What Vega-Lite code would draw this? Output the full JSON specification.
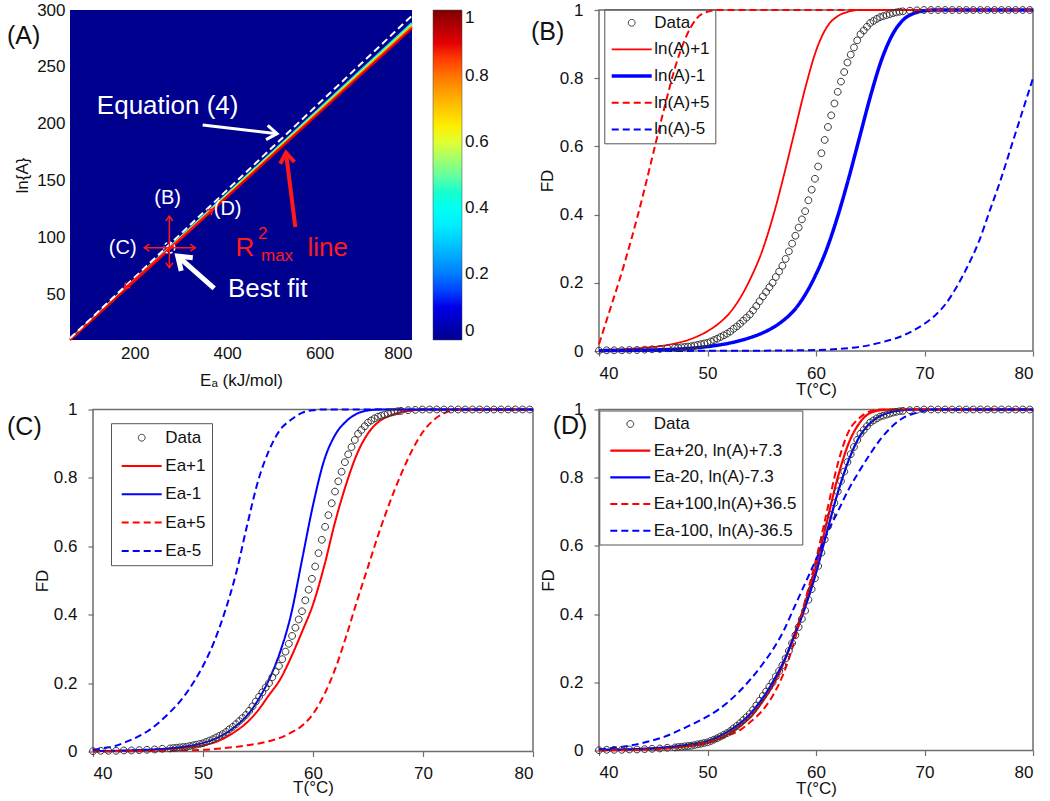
{
  "$schema": "https://vega.github.io/schema/vega-lite/v6.json",
  "background": "white",
  "padding": {"left": 6, "top": 0, "right": 5, "bottom": 0},
  "config": {
    "font": "Liberation Sans",
    "view": {"stroke": "#6e6e6e", "strokeWidth": 1.5},
    "axis": {"labelFont": "Liberation Sans", "labelFontSize": 17, "labelColor": "#111", "titleFont": "Liberation Sans", "titleFontSize": 17, "titleFontWeight": "normal", "titleColor": "#111", "grid": false, "domain": false, "tickColor": "#6e6e6e", "tickSize": 5, "tickWidth": 1.2},
    "legend": {"labelFont": "Liberation Sans", "labelFontSize": 17, "labelColor": "#111"},
    "title": {"font": "Liberation Sans", "fontSize": 25, "fontWeight": "normal", "color": "#111", "anchor": "start", "frame": "group", "offset": 0, "baseline": "middle"}
  },
  "datasets": {
    "heat": [{"E": 60, "E2": 800, "L": 10, "L2": 300, "v": 0}],
    "ridge": [
      {"band": "a", "E": 60, "L": 10.6}, {"band": "a", "E": 800, "L": 288.5},
      {"band": "b", "E": 60, "L": 10.4}, {"band": "b", "E": 800, "L": 287},
      {"band": "c", "E": 60, "L": 10.2}, {"band": "c", "E": 800, "L": 285.5},
      {"band": "d", "E": 60, "L": 10}, {"band": "d", "E": 800, "L": 284}
    ],
    "eq": [{"E": 60, "L": 11.5}, {"E": 800, "L": 295}],
    "fit": [{"E": 274.9, "L": 91.1}],
    "arrowsA": [
      {"grp": "thin", "E": 274.9, "L": 73.5, "E2": 274.9, "L2": 119},
      {"grp": "thin", "E": 220.8, "L": 91.1, "E2": 331.1, "L2": 91.1},
      {"grp": "thin", "E": 177.5, "L": 55.4, "E2": 368.8, "L2": 124.9},
      {"grp": "weq", "E": 347, "L": 199, "E2": 508, "L2": 191.3},
      {"grp": "wbf", "E": 372, "L": 55.4, "E2": 293, "L2": 83.8},
      {"grp": "red", "E": 547.5, "L": 109.3, "E2": 527.4, "L2": 174.6}
    ],
    "headsA": [
      {"grp": "thin", "E": 274.9, "L": 119, "dir": 0},
      {"grp": "thin", "E": 274.9, "L": 73.5, "dir": 180},
      {"grp": "thin", "E": 220.8, "L": 91.1, "dir": 270},
      {"grp": "thin", "E": 331.1, "L": 91.1, "dir": 90},
      {"grp": "thin", "E": 368.8, "L": 124.9, "dir": 48.2},
      {"grp": "thin", "E": 177.5, "L": 55.4, "dir": 228.2},
      {"grp": "weq", "E": 508, "L": 191.3, "dir": 96.7},
      {"grp": "wbf", "E": 293, "L": 83.8, "dir": 311.5},
      {"grp": "red", "E": 527.4, "L": 174.6, "dir": 352.9}
    ],
    "notesA": [
      {"grp": "small", "txt": "(B)", "E": 271.3, "L": 135.1},
      {"grp": "small", "txt": "(C)", "E": 174, "L": 91.1},
      {"grp": "small", "txt": "(D)", "E": 401, "L": 124.9},
      {"grp": "big", "txt": "Equation (4)", "E": 271.3, "L": 215.6},
      {"grp": "big", "txt": "Best fit", "E": 487.7, "L": 54.5},
      {"grp": "redbig", "txt": "R", "E": 438.6, "L": 91.1},
      {"grp": "redbig", "txt": "line", "E": 617.6, "L": 91.1},
      {"grp": "redsmall", "txt": "2", "E": 477, "L": 103.2},
      {"grp": "redsmall", "txt": "max", "E": 508, "L": 83.8}
    ],
    "obs": [
      {"T": 40.0, "FD": 0.001}, {"T": 40.7, "FD": 0.002}, {"T": 41.4, "FD": 0.002}, {"T": 42.1, "FD": 0.002}, {"T": 42.8, "FD": 0.003},
      {"T": 43.5, "FD": 0.003}, {"T": 44.2, "FD": 0.004}, {"T": 44.9, "FD": 0.005}, {"T": 45.6, "FD": 0.006}, {"T": 46.3, "FD": 0.008},
      {"T": 47.0, "FD": 0.009}, {"T": 47.3, "FD": 0.010}, {"T": 47.6, "FD": 0.011}, {"T": 47.9, "FD": 0.012}, {"T": 48.2, "FD": 0.013},
      {"T": 48.5, "FD": 0.014}, {"T": 48.8, "FD": 0.016}, {"T": 49.1, "FD": 0.018}, {"T": 49.4, "FD": 0.020}, {"T": 49.7, "FD": 0.022},
      {"T": 50.0, "FD": 0.024}, {"T": 50.3, "FD": 0.028}, {"T": 50.6, "FD": 0.032}, {"T": 50.9, "FD": 0.036}, {"T": 51.2, "FD": 0.041},
      {"T": 51.5, "FD": 0.046}, {"T": 51.8, "FD": 0.051}, {"T": 52.1, "FD": 0.057}, {"T": 52.4, "FD": 0.065}, {"T": 52.7, "FD": 0.072},
      {"T": 53.0, "FD": 0.080}, {"T": 53.3, "FD": 0.089}, {"T": 53.6, "FD": 0.098}, {"T": 53.9, "FD": 0.107}, {"T": 54.2, "FD": 0.119},
      {"T": 54.5, "FD": 0.132}, {"T": 54.8, "FD": 0.146}, {"T": 55.1, "FD": 0.160}, {"T": 55.4, "FD": 0.173}, {"T": 55.7, "FD": 0.187},
      {"T": 56.0, "FD": 0.200}, {"T": 56.3, "FD": 0.217}, {"T": 56.6, "FD": 0.233}, {"T": 56.9, "FD": 0.250}, {"T": 57.2, "FD": 0.270},
      {"T": 57.5, "FD": 0.292}, {"T": 57.8, "FD": 0.315}, {"T": 58.1, "FD": 0.338}, {"T": 58.4, "FD": 0.362}, {"T": 58.7, "FD": 0.386},
      {"T": 59.0, "FD": 0.410}, {"T": 59.3, "FD": 0.442}, {"T": 59.6, "FD": 0.473}, {"T": 59.9, "FD": 0.505}, {"T": 60.2, "FD": 0.541},
      {"T": 60.5, "FD": 0.580}, {"T": 60.8, "FD": 0.619}, {"T": 61.1, "FD": 0.657}, {"T": 61.4, "FD": 0.691}, {"T": 61.7, "FD": 0.726},
      {"T": 62.0, "FD": 0.760}, {"T": 62.3, "FD": 0.790}, {"T": 62.6, "FD": 0.818}, {"T": 62.9, "FD": 0.846}, {"T": 63.2, "FD": 0.869},
      {"T": 63.5, "FD": 0.890}, {"T": 63.8, "FD": 0.911}, {"T": 64.1, "FD": 0.929}, {"T": 64.4, "FD": 0.940}, {"T": 64.7, "FD": 0.951},
      {"T": 65.0, "FD": 0.962}, {"T": 65.3, "FD": 0.968}, {"T": 65.6, "FD": 0.974}, {"T": 65.9, "FD": 0.979}, {"T": 66.2, "FD": 0.982},
      {"T": 66.5, "FD": 0.985}, {"T": 66.8, "FD": 0.988}, {"T": 67.1, "FD": 0.991}, {"T": 67.4, "FD": 0.993}, {"T": 67.7, "FD": 0.995},
      {"T": 68.0, "FD": 0.996}, {"T": 68.65, "FD": 0.998}, {"T": 69.3, "FD": 0.999}, {"T": 69.95, "FD": 1}, {"T": 70.6, "FD": 1},
      {"T": 71.25, "FD": 1}, {"T": 71.9, "FD": 1}, {"T": 72.55, "FD": 1}, {"T": 73.2, "FD": 1}, {"T": 73.85, "FD": 1},
      {"T": 74.5, "FD": 1}, {"T": 75.15, "FD": 1}, {"T": 75.8, "FD": 1}, {"T": 76.45, "FD": 1}, {"T": 77.1, "FD": 1},
      {"T": 77.75, "FD": 1}, {"T": 78.4, "FD": 1}, {"T": 79.05, "FD": 1}, {"T": 79.7, "FD": 1}
    ],
    "curvesB": [
      {"series": "ln(A)+1", "T": 40, "FD": 0.003}, {"series": "ln(A)+1", "T": 42, "FD": 0.005}, {"series": "ln(A)+1", "T": 44, "FD": 0.009}, {"series": "ln(A)+1", "T": 46, "FD": 0.016}, {"series": "ln(A)+1", "T": 47, "FD": 0.022}, {"series": "ln(A)+1", "T": 48, "FD": 0.03}, {"series": "ln(A)+1", "T": 49, "FD": 0.042}, {"series": "ln(A)+1", "T": 50, "FD": 0.058}, {"series": "ln(A)+1", "T": 51, "FD": 0.08}, {"series": "ln(A)+1", "T": 52, "FD": 0.11}, {"series": "ln(A)+1", "T": 53, "FD": 0.155}, {"series": "ln(A)+1", "T": 54, "FD": 0.215}, {"series": "ln(A)+1", "T": 55, "FD": 0.29}, {"series": "ln(A)+1", "T": 56, "FD": 0.39}, {"series": "ln(A)+1", "T": 57, "FD": 0.51}, {"series": "ln(A)+1", "T": 58, "FD": 0.64}, {"series": "ln(A)+1", "T": 59, "FD": 0.77}, {"series": "ln(A)+1", "T": 60, "FD": 0.88}, {"series": "ln(A)+1", "T": 61, "FD": 0.95}, {"series": "ln(A)+1", "T": 62, "FD": 0.982}, {"series": "ln(A)+1", "T": 63, "FD": 0.995}, {"series": "ln(A)+1", "T": 64, "FD": 1}, {"series": "ln(A)+1", "T": 80, "FD": 1},
      {"series": "ln(A)-1", "T": 40, "FD": 0.001}, {"series": "ln(A)-1", "T": 45, "FD": 0.003}, {"series": "ln(A)-1", "T": 48, "FD": 0.007}, {"series": "ln(A)-1", "T": 50, "FD": 0.013}, {"series": "ln(A)-1", "T": 52, "FD": 0.023}, {"series": "ln(A)-1", "T": 54, "FD": 0.04}, {"series": "ln(A)-1", "T": 55, "FD": 0.052}, {"series": "ln(A)-1", "T": 56, "FD": 0.068}, {"series": "ln(A)-1", "T": 57, "FD": 0.09}, {"series": "ln(A)-1", "T": 58, "FD": 0.12}, {"series": "ln(A)-1", "T": 59, "FD": 0.165}, {"series": "ln(A)-1", "T": 60, "FD": 0.225}, {"series": "ln(A)-1", "T": 61, "FD": 0.3}, {"series": "ln(A)-1", "T": 62, "FD": 0.395}, {"series": "ln(A)-1", "T": 63, "FD": 0.505}, {"series": "ln(A)-1", "T": 64, "FD": 0.625}, {"series": "ln(A)-1", "T": 65, "FD": 0.745}, {"series": "ln(A)-1", "T": 66, "FD": 0.85}, {"series": "ln(A)-1", "T": 67, "FD": 0.925}, {"series": "ln(A)-1", "T": 68, "FD": 0.97}, {"series": "ln(A)-1", "T": 69, "FD": 0.99}, {"series": "ln(A)-1", "T": 70, "FD": 0.998}, {"series": "ln(A)-1", "T": 71, "FD": 1}, {"series": "ln(A)-1", "T": 80, "FD": 1},
      {"series": "ln(A)+5", "T": 40, "FD": 0.02}, {"series": "ln(A)+5", "T": 40.5, "FD": 0.07}, {"series": "ln(A)+5", "T": 41, "FD": 0.12}, {"series": "ln(A)+5", "T": 42, "FD": 0.22}, {"series": "ln(A)+5", "T": 43, "FD": 0.33}, {"series": "ln(A)+5", "T": 44, "FD": 0.45}, {"series": "ln(A)+5", "T": 45, "FD": 0.58}, {"series": "ln(A)+5", "T": 46, "FD": 0.71}, {"series": "ln(A)+5", "T": 47, "FD": 0.83}, {"series": "ln(A)+5", "T": 48, "FD": 0.92}, {"series": "ln(A)+5", "T": 49, "FD": 0.975}, {"series": "ln(A)+5", "T": 50, "FD": 0.995}, {"series": "ln(A)+5", "T": 51, "FD": 1}, {"series": "ln(A)+5", "T": 80, "FD": 1},
      {"series": "ln(A)-5", "T": 40, "FD": 0}, {"series": "ln(A)-5", "T": 55, "FD": 0.001}, {"series": "ln(A)-5", "T": 60, "FD": 0.003}, {"series": "ln(A)-5", "T": 62, "FD": 0.006}, {"series": "ln(A)-5", "T": 64, "FD": 0.012}, {"series": "ln(A)-5", "T": 66, "FD": 0.025}, {"series": "ln(A)-5", "T": 68, "FD": 0.045}, {"series": "ln(A)-5", "T": 70, "FD": 0.08}, {"series": "ln(A)-5", "T": 71, "FD": 0.105}, {"series": "ln(A)-5", "T": 72, "FD": 0.14}, {"series": "ln(A)-5", "T": 73, "FD": 0.19}, {"series": "ln(A)-5", "T": 74, "FD": 0.25}, {"series": "ln(A)-5", "T": 75, "FD": 0.32}, {"series": "ln(A)-5", "T": 76, "FD": 0.41}, {"series": "ln(A)-5", "T": 77, "FD": 0.5}, {"series": "ln(A)-5", "T": 78, "FD": 0.6}, {"series": "ln(A)-5", "T": 79, "FD": 0.7}, {"series": "ln(A)-5", "T": 80, "FD": 0.8}
    ],
    "curvesC": [
      {"series": "Ea+1", "T": 40, "FD": 0.001}, {"series": "Ea+1", "T": 44, "FD": 0.003}, {"series": "Ea+1", "T": 46, "FD": 0.006}, {"series": "Ea+1", "T": 48, "FD": 0.01}, {"series": "Ea+1", "T": 50, "FD": 0.018}, {"series": "Ea+1", "T": 51, "FD": 0.026}, {"series": "Ea+1", "T": 52, "FD": 0.04}, {"series": "Ea+1", "T": 53, "FD": 0.06}, {"series": "Ea+1", "T": 54, "FD": 0.085}, {"series": "Ea+1", "T": 55, "FD": 0.12}, {"series": "Ea+1", "T": 56, "FD": 0.165}, {"series": "Ea+1", "T": 57, "FD": 0.21}, {"series": "Ea+1", "T": 58, "FD": 0.275}, {"series": "Ea+1", "T": 59, "FD": 0.35}, {"series": "Ea+1", "T": 60, "FD": 0.43}, {"series": "Ea+1", "T": 61, "FD": 0.54}, {"series": "Ea+1", "T": 62, "FD": 0.67}, {"series": "Ea+1", "T": 63, "FD": 0.78}, {"series": "Ea+1", "T": 64, "FD": 0.87}, {"series": "Ea+1", "T": 65, "FD": 0.93}, {"series": "Ea+1", "T": 66, "FD": 0.965}, {"series": "Ea+1", "T": 67, "FD": 0.982}, {"series": "Ea+1", "T": 68, "FD": 0.992}, {"series": "Ea+1", "T": 69, "FD": 0.997}, {"series": "Ea+1", "T": 70, "FD": 1}, {"series": "Ea+1", "T": 80, "FD": 1},
      {"series": "Ea-1", "T": 40, "FD": 0.001}, {"series": "Ea-1", "T": 44, "FD": 0.004}, {"series": "Ea-1", "T": 46, "FD": 0.007}, {"series": "Ea-1", "T": 48, "FD": 0.013}, {"series": "Ea-1", "T": 50, "FD": 0.025}, {"series": "Ea-1", "T": 51, "FD": 0.036}, {"series": "Ea-1", "T": 52, "FD": 0.052}, {"series": "Ea-1", "T": 53, "FD": 0.075}, {"series": "Ea-1", "T": 54, "FD": 0.105}, {"series": "Ea-1", "T": 55, "FD": 0.15}, {"series": "Ea-1", "T": 56, "FD": 0.21}, {"series": "Ea-1", "T": 57, "FD": 0.29}, {"series": "Ea-1", "T": 58, "FD": 0.4}, {"series": "Ea-1", "T": 59, "FD": 0.56}, {"series": "Ea-1", "T": 60, "FD": 0.72}, {"series": "Ea-1", "T": 61, "FD": 0.85}, {"series": "Ea-1", "T": 62, "FD": 0.925}, {"series": "Ea-1", "T": 63, "FD": 0.965}, {"series": "Ea-1", "T": 64, "FD": 0.988}, {"series": "Ea-1", "T": 65, "FD": 0.997}, {"series": "Ea-1", "T": 66, "FD": 1}, {"series": "Ea-1", "T": 80, "FD": 1},
      {"series": "Ea+5", "T": 40, "FD": 0}, {"series": "Ea+5", "T": 46, "FD": 0.002}, {"series": "Ea+5", "T": 50, "FD": 0.005}, {"series": "Ea+5", "T": 52, "FD": 0.01}, {"series": "Ea+5", "T": 54, "FD": 0.018}, {"series": "Ea+5", "T": 56, "FD": 0.03}, {"series": "Ea+5", "T": 57, "FD": 0.04}, {"series": "Ea+5", "T": 58, "FD": 0.055}, {"series": "Ea+5", "T": 59, "FD": 0.075}, {"series": "Ea+5", "T": 60, "FD": 0.11}, {"series": "Ea+5", "T": 61, "FD": 0.165}, {"series": "Ea+5", "T": 62, "FD": 0.24}, {"series": "Ea+5", "T": 63, "FD": 0.335}, {"series": "Ea+5", "T": 64, "FD": 0.44}, {"series": "Ea+5", "T": 65, "FD": 0.54}, {"series": "Ea+5", "T": 66, "FD": 0.64}, {"series": "Ea+5", "T": 67, "FD": 0.73}, {"series": "Ea+5", "T": 68, "FD": 0.81}, {"series": "Ea+5", "T": 69, "FD": 0.88}, {"series": "Ea+5", "T": 70, "FD": 0.935}, {"series": "Ea+5", "T": 71, "FD": 0.97}, {"series": "Ea+5", "T": 72, "FD": 0.99}, {"series": "Ea+5", "T": 73, "FD": 1}, {"series": "Ea+5", "T": 80, "FD": 1},
      {"series": "Ea-5", "T": 40, "FD": 0.005}, {"series": "Ea-5", "T": 41, "FD": 0.01}, {"series": "Ea-5", "T": 42, "FD": 0.016}, {"series": "Ea-5", "T": 43, "FD": 0.028}, {"series": "Ea-5", "T": 44, "FD": 0.042}, {"series": "Ea-5", "T": 45, "FD": 0.06}, {"series": "Ea-5", "T": 46, "FD": 0.085}, {"series": "Ea-5", "T": 47, "FD": 0.115}, {"series": "Ea-5", "T": 48, "FD": 0.15}, {"series": "Ea-5", "T": 49, "FD": 0.195}, {"series": "Ea-5", "T": 50, "FD": 0.25}, {"series": "Ea-5", "T": 51, "FD": 0.32}, {"series": "Ea-5", "T": 52, "FD": 0.41}, {"series": "Ea-5", "T": 53, "FD": 0.52}, {"series": "Ea-5", "T": 54, "FD": 0.66}, {"series": "Ea-5", "T": 55, "FD": 0.79}, {"series": "Ea-5", "T": 56, "FD": 0.88}, {"series": "Ea-5", "T": 57, "FD": 0.94}, {"series": "Ea-5", "T": 58, "FD": 0.97}, {"series": "Ea-5", "T": 59, "FD": 0.99}, {"series": "Ea-5", "T": 60, "FD": 0.998}, {"series": "Ea-5", "T": 61, "FD": 1}, {"series": "Ea-5", "T": 80, "FD": 1}
    ],
    "curvesD": [
      {"series": "Ea+20, ln(A)+7.3", "T": 40, "FD": 0.001}, {"series": "Ea+20, ln(A)+7.3", "T": 44, "FD": 0.004}, {"series": "Ea+20, ln(A)+7.3", "T": 46, "FD": 0.007}, {"series": "Ea+20, ln(A)+7.3", "T": 48, "FD": 0.012}, {"series": "Ea+20, ln(A)+7.3", "T": 50, "FD": 0.022}, {"series": "Ea+20, ln(A)+7.3", "T": 52, "FD": 0.05}, {"series": "Ea+20, ln(A)+7.3", "T": 53, "FD": 0.072}, {"series": "Ea+20, ln(A)+7.3", "T": 54, "FD": 0.1}, {"series": "Ea+20, ln(A)+7.3", "T": 55, "FD": 0.14}, {"series": "Ea+20, ln(A)+7.3", "T": 56, "FD": 0.19}, {"series": "Ea+20, ln(A)+7.3", "T": 57, "FD": 0.255}, {"series": "Ea+20, ln(A)+7.3", "T": 58, "FD": 0.34}, {"series": "Ea+20, ln(A)+7.3", "T": 59, "FD": 0.43}, {"series": "Ea+20, ln(A)+7.3", "T": 60, "FD": 0.54}, {"series": "Ea+20, ln(A)+7.3", "T": 61, "FD": 0.67}, {"series": "Ea+20, ln(A)+7.3", "T": 62, "FD": 0.8}, {"series": "Ea+20, ln(A)+7.3", "T": 63, "FD": 0.9}, {"series": "Ea+20, ln(A)+7.3", "T": 64, "FD": 0.96}, {"series": "Ea+20, ln(A)+7.3", "T": 65, "FD": 0.99}, {"series": "Ea+20, ln(A)+7.3", "T": 66, "FD": 0.998}, {"series": "Ea+20, ln(A)+7.3", "T": 67, "FD": 1}, {"series": "Ea+20, ln(A)+7.3", "T": 80, "FD": 1},
      {"series": "Ea-20, ln(A)-7.3", "T": 40, "FD": 0.002}, {"series": "Ea-20, ln(A)-7.3", "T": 44, "FD": 0.005}, {"series": "Ea-20, ln(A)-7.3", "T": 46, "FD": 0.009}, {"series": "Ea-20, ln(A)-7.3", "T": 48, "FD": 0.016}, {"series": "Ea-20, ln(A)-7.3", "T": 50, "FD": 0.028}, {"series": "Ea-20, ln(A)-7.3", "T": 52, "FD": 0.058}, {"series": "Ea-20, ln(A)-7.3", "T": 53, "FD": 0.08}, {"series": "Ea-20, ln(A)-7.3", "T": 54, "FD": 0.11}, {"series": "Ea-20, ln(A)-7.3", "T": 55, "FD": 0.15}, {"series": "Ea-20, ln(A)-7.3", "T": 56, "FD": 0.2}, {"series": "Ea-20, ln(A)-7.3", "T": 57, "FD": 0.26}, {"series": "Ea-20, ln(A)-7.3", "T": 58, "FD": 0.335}, {"series": "Ea-20, ln(A)-7.3", "T": 59, "FD": 0.42}, {"series": "Ea-20, ln(A)-7.3", "T": 60, "FD": 0.52}, {"series": "Ea-20, ln(A)-7.3", "T": 61, "FD": 0.64}, {"series": "Ea-20, ln(A)-7.3", "T": 62, "FD": 0.755}, {"series": "Ea-20, ln(A)-7.3", "T": 63, "FD": 0.85}, {"series": "Ea-20, ln(A)-7.3", "T": 64, "FD": 0.92}, {"series": "Ea-20, ln(A)-7.3", "T": 65, "FD": 0.96}, {"series": "Ea-20, ln(A)-7.3", "T": 66, "FD": 0.982}, {"series": "Ea-20, ln(A)-7.3", "T": 67, "FD": 0.993}, {"series": "Ea-20, ln(A)-7.3", "T": 68, "FD": 0.998}, {"series": "Ea-20, ln(A)-7.3", "T": 69, "FD": 1}, {"series": "Ea-20, ln(A)-7.3", "T": 80, "FD": 1},
      {"series": "Ea+100,ln(A)+36.5", "T": 40, "FD": 0}, {"series": "Ea+100,ln(A)+36.5", "T": 44, "FD": 0.002}, {"series": "Ea+100,ln(A)+36.5", "T": 46, "FD": 0.005}, {"series": "Ea+100,ln(A)+36.5", "T": 48, "FD": 0.012}, {"series": "Ea+100,ln(A)+36.5", "T": 50, "FD": 0.025}, {"series": "Ea+100,ln(A)+36.5", "T": 52, "FD": 0.045}, {"series": "Ea+100,ln(A)+36.5", "T": 53, "FD": 0.06}, {"series": "Ea+100,ln(A)+36.5", "T": 54, "FD": 0.085}, {"series": "Ea+100,ln(A)+36.5", "T": 55, "FD": 0.115}, {"series": "Ea+100,ln(A)+36.5", "T": 56, "FD": 0.16}, {"series": "Ea+100,ln(A)+36.5", "T": 57, "FD": 0.225}, {"series": "Ea+100,ln(A)+36.5", "T": 58, "FD": 0.32}, {"series": "Ea+100,ln(A)+36.5", "T": 59, "FD": 0.44}, {"series": "Ea+100,ln(A)+36.5", "T": 60, "FD": 0.56}, {"series": "Ea+100,ln(A)+36.5", "T": 61, "FD": 0.7}, {"series": "Ea+100,ln(A)+36.5", "T": 62, "FD": 0.84}, {"series": "Ea+100,ln(A)+36.5", "T": 63, "FD": 0.935}, {"series": "Ea+100,ln(A)+36.5", "T": 64, "FD": 0.975}, {"series": "Ea+100,ln(A)+36.5", "T": 65, "FD": 0.995}, {"series": "Ea+100,ln(A)+36.5", "T": 66, "FD": 1}, {"series": "Ea+100,ln(A)+36.5", "T": 80, "FD": 1},
      {"series": "Ea-100, ln(A)-36.5", "T": 40, "FD": 0.004}, {"series": "Ea-100, ln(A)-36.5", "T": 42, "FD": 0.01}, {"series": "Ea-100, ln(A)-36.5", "T": 44, "FD": 0.022}, {"series": "Ea-100, ln(A)-36.5", "T": 46, "FD": 0.04}, {"series": "Ea-100, ln(A)-36.5", "T": 48, "FD": 0.068}, {"series": "Ea-100, ln(A)-36.5", "T": 50, "FD": 0.1}, {"series": "Ea-100, ln(A)-36.5", "T": 51, "FD": 0.12}, {"series": "Ea-100, ln(A)-36.5", "T": 52, "FD": 0.145}, {"series": "Ea-100, ln(A)-36.5", "T": 53, "FD": 0.175}, {"series": "Ea-100, ln(A)-36.5", "T": 54, "FD": 0.21}, {"series": "Ea-100, ln(A)-36.5", "T": 55, "FD": 0.25}, {"series": "Ea-100, ln(A)-36.5", "T": 56, "FD": 0.295}, {"series": "Ea-100, ln(A)-36.5", "T": 57, "FD": 0.35}, {"series": "Ea-100, ln(A)-36.5", "T": 58, "FD": 0.42}, {"series": "Ea-100, ln(A)-36.5", "T": 59, "FD": 0.49}, {"series": "Ea-100, ln(A)-36.5", "T": 60, "FD": 0.56}, {"series": "Ea-100, ln(A)-36.5", "T": 61, "FD": 0.635}, {"series": "Ea-100, ln(A)-36.5", "T": 62, "FD": 0.7}, {"series": "Ea-100, ln(A)-36.5", "T": 63, "FD": 0.765}, {"series": "Ea-100, ln(A)-36.5", "T": 64, "FD": 0.82}, {"series": "Ea-100, ln(A)-36.5", "T": 65, "FD": 0.87}, {"series": "Ea-100, ln(A)-36.5", "T": 66, "FD": 0.915}, {"series": "Ea-100, ln(A)-36.5", "T": 67, "FD": 0.95}, {"series": "Ea-100, ln(A)-36.5", "T": 68, "FD": 0.975}, {"series": "Ea-100, ln(A)-36.5", "T": 69, "FD": 0.988}, {"series": "Ea-100, ln(A)-36.5", "T": 70, "FD": 0.996}, {"series": "Ea-100, ln(A)-36.5", "T": 71, "FD": 1}, {"series": "Ea-100, ln(A)-36.5", "T": 80, "FD": 1}
    ]
  },
  "spacing": 1.5,
  "resolve": {"scale": {"color": "independent", "shape": "independent", "strokeDash": "independent", "strokeWidth": "independent", "stroke": "independent"}},
  "vconcat": [
    {
      "hconcat": [
        {
          "width": 342, "height": 330,
          "view": {"stroke": null},
          "title": {"text": "(A)", "dx": -86, "dy": 52},
          "layer": [
            {
              "data": {"name": "heat"},
              "mark": {"type": "rect"},
              "encoding": {
                "x": {"field": "E", "type": "quantitative", "scale": {"domain": [60, 800], "nice": false, "zero": false, "range": [-23, 319]}, "axis": {"values": [200, 400, 600, 800], "ticks": false, "tickSize": 0, "labelPadding": 5, "title": "Eₐ (kJ/mol)", "titleX": 148, "titleY": 40, "titleBaseline": "middle", "titleAlign": "center"}},
                "x2": {"field": "E2"},
                "y": {"field": "L", "type": "quantitative", "scale": {"domain": [10, 300], "nice": false, "zero": false}, "axis": {"values": [50, 100, 150, 200, 250, 300], "offset": 23, "ticks": false, "tickSize": 0, "labelPadding": 5, "title": "ln{A}", "titleX": -47.3, "titleY": 165, "titleAngle": -90, "titleAlign": "center", "titleBaseline": "middle"}},
                "y2": {"field": "L2"},
                "color": {"field": "v", "type": "quantitative", "scale": {"domain": [0, 0.125, 0.375, 0.625, 0.875, 1], "range": ["#00008f", "#0000ff", "#00ffff", "#ffff00", "#ff0000", "#800000"]}, "legend": {"type": "gradient", "title": null, "direction": "vertical", "gradientLength": 330, "gradientThickness": 29, "values": [0, 0.2, 0.4, 0.6, 0.8, 1], "format": ".1~f", "offset": -2, "padding": 0, "labelOffset": 3, "labelFontSize": 17, "gradientStrokeColor": "#444", "gradientStrokeWidth": 0.5}}
              }
            },
            {
              "data": {"name": "ridge"},
              "mark": {"type": "line", "strokeWidth": 2.2},
              "encoding": {
                "x": {"field": "E", "type": "quantitative"},
                "y": {"field": "L", "type": "quantitative"},
                "stroke": {"field": "band", "type": "nominal", "scale": {"domain": ["a", "b", "c", "d"], "range": ["#00e6ff", "#b2ff4d", "#ff8000", "#f00000"]}, "legend": null}
              }
            },
            {
              "data": {"name": "eq"},
              "mark": {"type": "line", "color": "white", "strokeWidth": 2, "strokeDash": [7, 4]},
              "encoding": {"x": {"field": "E", "type": "quantitative"}, "y": {"field": "L", "type": "quantitative"}}
            },
            {
              "data": {"name": "fit"},
              "mark": {"type": "point", "filled": false, "color": "white", "opacity": 1, "size": 120, "strokeWidth": 1.5, "strokeDash": [3, 2]},
              "encoding": {"x": {"field": "E", "type": "quantitative"}, "y": {"field": "L", "type": "quantitative"}}
            },
            {
              "data": {"name": "arrowsA"},
              "transform": [{"filter": "datum.grp === 'thin'"}],
              "mark": {"type": "rule", "color": "#ff1a1a", "strokeWidth": 1.5},
              "encoding": {"x": {"field": "E", "type": "quantitative"}, "y": {"field": "L", "type": "quantitative"}, "x2": {"field": "E2"}, "y2": {"field": "L2"}}
            },
            {
              "data": {"name": "headsA"},
              "transform": [{"filter": "datum.grp === 'thin'"}],
              "mark": {"type": "point", "shape": "M-0.7,1L0,0L0.7,1", "filled": false, "color": "#ff1a1a", "opacity": 1, "size": 100, "strokeWidth": 1.5},
              "encoding": {"x": {"field": "E", "type": "quantitative"}, "y": {"field": "L", "type": "quantitative"}, "angle": {"field": "dir", "type": "quantitative", "scale": null}}
            },
            {
              "data": {"name": "arrowsA"},
              "transform": [{"filter": "datum.grp === 'weq'"}],
              "mark": {"type": "rule", "color": "white", "strokeWidth": 3},
              "encoding": {"x": {"field": "E", "type": "quantitative"}, "y": {"field": "L", "type": "quantitative"}, "x2": {"field": "E2"}, "y2": {"field": "L2"}}
            },
            {
              "data": {"name": "headsA"},
              "transform": [{"filter": "datum.grp === 'weq'"}],
              "mark": {"type": "point", "shape": "M-0.7,1L0,0L0.7,1", "filled": false, "color": "white", "opacity": 1, "size": 420, "strokeWidth": 3},
              "encoding": {"x": {"field": "E", "type": "quantitative"}, "y": {"field": "L", "type": "quantitative"}, "angle": {"field": "dir", "type": "quantitative", "scale": null}}
            },
            {
              "data": {"name": "arrowsA"},
              "transform": [{"filter": "datum.grp === 'wbf'"}],
              "mark": {"type": "rule", "color": "white", "strokeWidth": 5},
              "encoding": {"x": {"field": "E", "type": "quantitative"}, "y": {"field": "L", "type": "quantitative"}, "x2": {"field": "E2"}, "y2": {"field": "L2"}}
            },
            {
              "data": {"name": "headsA"},
              "transform": [{"filter": "datum.grp === 'wbf'"}],
              "mark": {"type": "point", "shape": "M-0.7,1L0,0L0.7,1", "filled": false, "color": "white", "opacity": 1, "size": 620, "strokeWidth": 5},
              "encoding": {"x": {"field": "E", "type": "quantitative"}, "y": {"field": "L", "type": "quantitative"}, "angle": {"field": "dir", "type": "quantitative", "scale": null}}
            },
            {
              "data": {"name": "arrowsA"},
              "transform": [{"filter": "datum.grp === 'red'"}],
              "mark": {"type": "rule", "color": "#ff1a1a", "strokeWidth": 4},
              "encoding": {"x": {"field": "E", "type": "quantitative"}, "y": {"field": "L", "type": "quantitative"}, "x2": {"field": "E2"}, "y2": {"field": "L2"}}
            },
            {
              "data": {"name": "headsA"},
              "transform": [{"filter": "datum.grp === 'red'"}],
              "mark": {"type": "point", "shape": "M-0.7,1L0,0L0.7,1", "filled": false, "color": "#ff1a1a", "opacity": 1, "size": 420, "strokeWidth": 4},
              "encoding": {"x": {"field": "E", "type": "quantitative"}, "y": {"field": "L", "type": "quantitative"}, "angle": {"field": "dir", "type": "quantitative", "scale": null}}
            },
            {
              "data": {"name": "notesA"},
              "transform": [{"filter": "datum.grp === 'small'"}],
              "mark": {"type": "text", "color": "white", "fontSize": 20, "font": "Liberation Sans", "align": "center", "baseline": "middle"},
              "encoding": {"x": {"field": "E", "type": "quantitative"}, "y": {"field": "L", "type": "quantitative"}, "text": {"field": "txt"}}
            },
            {
              "data": {"name": "notesA"},
              "transform": [{"filter": "datum.grp === 'big'"}],
              "mark": {"type": "text", "color": "white", "fontSize": 26, "font": "Liberation Sans", "align": "center", "baseline": "middle"},
              "encoding": {"x": {"field": "E", "type": "quantitative"}, "y": {"field": "L", "type": "quantitative"}, "text": {"field": "txt"}}
            },
            {
              "data": {"name": "notesA"},
              "transform": [{"filter": "datum.grp === 'redbig'"}],
              "mark": {"type": "text", "color": "#ff1a1a", "fontSize": 26, "font": "Liberation Sans", "align": "center", "baseline": "middle"},
              "encoding": {"x": {"field": "E", "type": "quantitative"}, "y": {"field": "L", "type": "quantitative"}, "text": {"field": "txt"}}
            },
            {
              "data": {"name": "notesA"},
              "transform": [{"filter": "datum.grp === 'redsmall'"}],
              "mark": {"type": "text", "color": "#ff1a1a", "fontSize": 17, "font": "Liberation Sans", "align": "center", "baseline": "middle"},
              "encoding": {"x": {"field": "E", "type": "quantitative"}, "y": {"field": "L", "type": "quantitative"}, "text": {"field": "txt"}}
            }
          ]
        },
        {
          "width": 434, "height": 341,
          "title": {"text": "(B)", "dx": -68, "dy": 47.9},
          "layer": [
            {
              "data": {"name": "curvesB"},
              "mark": {"type": "line", "interpolate": "monotone"},
              "encoding": {
                "x": {"field": "T", "type": "quantitative", "scale": {"domain": [40, 80], "nice": false, "zero": false}, "axis": {"values": [40, 50, 60, 70, 80], "labelPadding": 9, "title": "T(°C)", "titleY": 38, "titleBaseline": "middle"}},
                "y": {"field": "FD", "type": "quantitative", "scale": {"domain": [0, 1], "nice": false}, "axis": {"values": [0, 0.2, 0.4, 0.6, 0.8, 1], "format": ".1~f", "labelPadding": 11, "title": "FD", "titleX": -51.3, "titleY": 170.5, "titleAngle": -90, "titleAlign": "center", "titleBaseline": "middle"}},
                "color": {"field": "series", "type": "nominal", "scale": {"domain": ["Data", "ln(A)+1", "ln(A)-1", "ln(A)+5", "ln(A)-5"], "range": ["#333333", "#ff0000", "#0000ff", "#ff0000", "#0000ff"]}, "legend": {"title": null, "orient": "none", "legendX": 5.3, "legendY": -0.7, "direction": "vertical", "padding": 5, "rowPadding": 8.65, "symbolOffset": 13.9, "labelOffset": 14.1, "symbolSize": 100, "strokeColor": "#555", "symbolFillColor": "transparent", "labelLimit": 400}},
                "strokeDash": {"field": "series", "type": "nominal", "scale": {"domain": ["Data", "ln(A)+1", "ln(A)-1", "ln(A)+5", "ln(A)-5"], "range": [[1, 0], [1, 0], [1, 0], [7, 4], [7, 4]]}},
                "strokeWidth": {"field": "series", "type": "nominal", "scale": {"type": "ordinal", "domain": ["Data", "ln(A)+1", "ln(A)-1", "ln(A)+5", "ln(A)-5"], "range": [1, 1.8, 3.5, 2, 2]}}
              }
            },
            {
              "data": {"name": "obs"},
              "mark": {"type": "point", "filled": false, "opacity": 1, "strokeWidth": 1, "size": 100},
              "encoding": {
                "x": {"field": "T", "type": "quantitative"},
                "y": {"field": "FD", "type": "quantitative"},
                "color": {"datum": "Data", "type": "nominal"},
                "shape": {"datum": "Data", "type": "nominal", "scale": {"domain": ["Data", "ln(A)+1", "ln(A)-1", "ln(A)+5", "ln(A)-5"], "range": ["M-0.68,0A0.68,0.68,0,1,1,0.68,0A0.68,0.68,0,1,1,-0.68,0Z", "M-4,0L4,0", "M-4,0L4,0", "M-4,0L4,0", "M-4,0L4,0"]}}
              }
            }
          ]
        }
      ],
      "spacing": 164,
      "bounds": "flush",
      "resolve": {"scale": {"color": "independent", "shape": "independent", "strokeDash": "independent", "strokeWidth": "independent", "stroke": "independent"}}
    },
    {
      "hconcat": [
        {
          "width": 440, "height": 342,
          "title": {"text": "(C)", "dx": -86, "dy": 43.4},
          "layer": [
            {
              "data": {"name": "curvesC"},
              "mark": {"type": "line", "interpolate": "monotone"},
              "encoding": {
                "x": {"field": "T", "type": "quantitative", "scale": {"domain": [40, 80], "nice": false, "zero": false}, "axis": {"values": [40, 50, 60, 70, 80], "labelPadding": 9, "title": "T(°C)", "titleY": 35.7, "titleBaseline": "middle"}},
                "y": {"field": "FD", "type": "quantitative", "scale": {"domain": [0, 1], "nice": false}, "axis": {"values": [0, 0.2, 0.4, 0.6, 0.8, 1], "format": ".1~f", "labelPadding": 11, "title": "FD", "titleX": -51, "titleY": 171, "titleAngle": -90, "titleAlign": "center", "titleBaseline": "middle"}},
                "color": {"field": "series", "type": "nominal", "scale": {"domain": ["Data", "Ea+1", "Ea-1", "Ea+5", "Ea-5"], "range": ["#333333", "#ff0000", "#0000ff", "#ff0000", "#0000ff"]}, "legend": {"title": null, "orient": "none", "legendX": 18, "legendY": 13.7, "direction": "vertical", "padding": 6, "rowPadding": 10.3, "symbolOffset": 16.2, "labelOffset": 15.1, "symbolSize": 100, "strokeColor": "#555", "symbolFillColor": "transparent", "labelLimit": 400}},
                "strokeDash": {"field": "series", "type": "nominal", "scale": {"domain": ["Data", "Ea+1", "Ea-1", "Ea+5", "Ea-5"], "range": [[1, 0], [1, 0], [1, 0], [7, 4], [7, 4]]}},
                "strokeWidth": {"field": "series", "type": "nominal", "scale": {"type": "ordinal", "domain": ["Data", "Ea+1", "Ea-1", "Ea+5", "Ea-5"], "range": [1, 2, 2, 2, 2]}}
              }
            },
            {
              "data": {"name": "obs"},
              "mark": {"type": "point", "filled": false, "opacity": 1, "strokeWidth": 1, "size": 100},
              "encoding": {
                "x": {"field": "T", "type": "quantitative"},
                "y": {"field": "FD", "type": "quantitative"},
                "color": {"datum": "Data", "type": "nominal"},
                "shape": {"datum": "Data", "type": "nominal", "scale": {"domain": ["Data", "Ea+1", "Ea-1", "Ea+5", "Ea-5"], "range": ["M-0.68,0A0.68,0.68,0,1,1,0.68,0A0.68,0.68,0,1,1,-0.68,0Z", "M-4,0L4,0", "M-4,0L4,0", "M-4,0L4,0", "M-4,0L4,0"]}}
              }
            }
          ]
        },
        {
          "width": 434, "height": 341,
          "title": {"text": "(D)", "dx": -46.3, "dy": 42.5},
          "layer": [
            {
              "data": {"name": "curvesD"},
              "mark": {"type": "line", "interpolate": "monotone"},
              "encoding": {
                "x": {"field": "T", "type": "quantitative", "scale": {"domain": [40, 80], "nice": false, "zero": false}, "axis": {"values": [40, 50, 60, 70, 80], "labelPadding": 9, "title": "T(°C)", "titleY": 38.3, "titleBaseline": "middle"}},
                "y": {"field": "FD", "type": "quantitative", "scale": {"domain": [0, 1], "nice": false}, "axis": {"values": [0, 0.2, 0.4, 0.6, 0.8, 1], "format": ".1~f", "labelPadding": 11, "title": "FD", "titleX": -51, "titleY": 170.5, "titleAngle": -90, "titleAlign": "center", "titleBaseline": "middle"}},
                "color": {"field": "series", "type": "nominal", "scale": {"domain": ["Data", "Ea+20, ln(A)+7.3", "Ea-20, ln(A)-7.3", "Ea+100,ln(A)+36.5", "Ea-100, ln(A)-36.5"], "range": ["#333333", "#ff0000", "#0000ff", "#ff0000", "#0000ff"]}, "legend": {"title": null, "orient": "none", "legendX": 0.3, "legendY": 1, "direction": "vertical", "padding": 5, "rowPadding": 8.7, "symbolOffset": 17.5, "labelOffset": 14.9, "symbolSize": 100, "strokeColor": "#555", "symbolFillColor": "transparent", "labelLimit": 400}},
                "strokeDash": {"field": "series", "type": "nominal", "scale": {"domain": ["Data", "Ea+20, ln(A)+7.3", "Ea-20, ln(A)-7.3", "Ea+100,ln(A)+36.5", "Ea-100, ln(A)-36.5"], "range": [[1, 0], [1, 0], [1, 0], [7, 4], [7, 4]]}},
                "strokeWidth": {"field": "series", "type": "nominal", "scale": {"type": "ordinal", "domain": ["Data", "Ea+20, ln(A)+7.3", "Ea-20, ln(A)-7.3", "Ea+100,ln(A)+36.5", "Ea-100, ln(A)-36.5"], "range": [1, 2.2, 2.2, 2, 2]}}
              }
            },
            {
              "data": {"name": "obs"},
              "mark": {"type": "point", "filled": false, "opacity": 1, "strokeWidth": 1, "size": 100},
              "encoding": {
                "x": {"field": "T", "type": "quantitative"},
                "y": {"field": "FD", "type": "quantitative"},
                "color": {"datum": "Data", "type": "nominal"},
                "shape": {"datum": "Data", "type": "nominal", "scale": {"domain": ["Data", "Ea+20, ln(A)+7.3", "Ea-20, ln(A)-7.3", "Ea+100,ln(A)+36.5", "Ea-100, ln(A)-36.5"], "range": ["M-0.68,0A0.68,0.68,0,1,1,0.68,0A0.68,0.68,0,1,1,-0.68,0Z", "M-4,0L4,0", "M-4,0L4,0", "M-4,0L4,0", "M-4,0L4,0"]}}
              }
            }
          ]
        }
      ],
      "spacing": 66,
      "bounds": "flush",
      "resolve": {"scale": {"color": "independent", "shape": "independent", "strokeDash": "independent", "strokeWidth": "independent", "stroke": "independent"}}
    }
  ]
}
